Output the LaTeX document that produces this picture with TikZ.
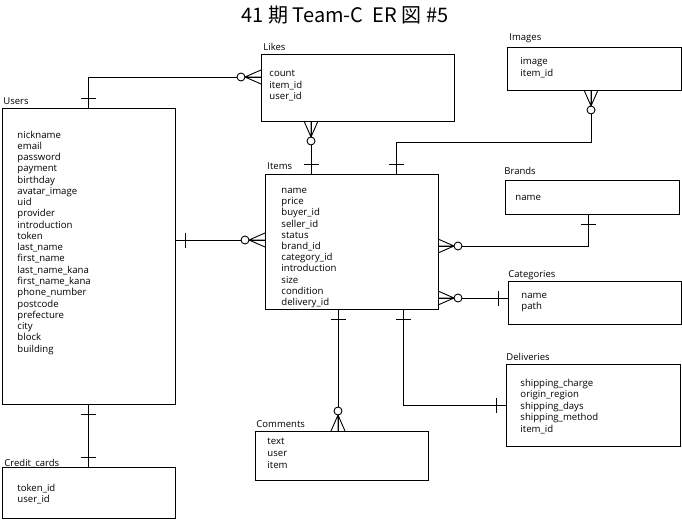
\documentclass[tikz,border=0pt]{standalone}
\usepackage{fontspec}
\setmainfont{Open Sans}
\newfontfamily\cjk{Noto Sans CJK JP}
\newcommand\attrlist[1]{\begin{tabular}[t]{@{}l@{}}#1\end{tabular}}
\begin{document}
\begin{tikzpicture}[x=1pt,y=-1pt,line width=0.9pt,
  entity/.style={draw, rectangle, inner sep=0pt, outer sep=0pt, anchor=north west},
  ename/.style={anchor=base west, inner sep=0pt, font=\fontsize{9.5}{11}\selectfont},
  attrs/.style={anchor=base west, inner sep=0pt, font={\fontsize{9.6}{#1}\selectfont}},
  attrs/.default=11.5,
  crowfoot/.pic={\draw (0,-7)--(16,0) (0,7)--(16,0) (0,0)--(16,0);
                 \draw[fill=white] (20,0) circle[radius=4];},
  onebar/.pic={\draw (10,-7.5)--(10,7.5);}
]
\useasboundingbox (0,0) rectangle (682,519);

\node[font=\cjk\fontsize{20}{22}\selectfont] (title) at (345,15) {41 期 Team-C\ \ ER 図 \#5};

% entities
\node[entity, minimum width=173pt, minimum height=296pt] (users) at (2,108) {};
\node[entity, minimum width=173pt, minimum height=51pt] (credit) at (2,467) {};
\node[entity, minimum width=193pt, minimum height=67pt] (likes) at (261,54) {};
\node[entity, minimum width=174pt, minimum height=43pt] (images) at (507,47) {};
\node[entity, minimum width=173pt, minimum height=135pt] (items) at (265,174) {};
\node[entity, minimum width=174pt, minimum height=34pt] (brands) at (505,180) {};
\node[entity, minimum width=173pt, minimum height=43pt] (categories) at (508,281) {};
\node[entity, minimum width=174pt, minimum height=82pt] (deliveries) at (506,364) {};
\node[entity, minimum width=173pt, minimum height=49pt] (comments) at (255,431) {};

% entity names
\node[ename] (usersname) at (3,104) {Users};
\node[ename] (likesname) at (263,51) {Likes};
\node[ename] (imagesname) at (509,41) {Images};
\node[ename] (itemsname) at (267,169) {Items};
\node[ename] (brandsname) at (504,174) {Brands};
\node[ename] (categoriesname) at (508,277) {Categories};
\node[ename] (deliveriesname) at (506,360) {Deliveries};
\node[ename] (commentsname) at (256,427) {Comments};
\node[ename] (creditname) at (4,466) {Credit\_cards};

% attributes
\node[attrs=11.27] (usersattr) at (17,138) {\attrlist{nickname\\email\\password\\payment\\birthday\\avatar\_image\\uid\\provider\\introduction\\token\\last\_name\\first\_name\\last\_name\_kana\\first\_name\_kana\\phone\_number\\postcode\\prefecture\\city\\block\\building}};
\node[attrs=11] (likesattr) at (269,77) {\attrlist{count\\item\_id\\user\_id}};
\node[attrs=12] (imagesattr) at (520,64) {\attrlist{image\\item\_id}};
\node[attrs=11.2] (itemsattr) at (281,193.5) {\attrlist{name\\price\\buyer\_id\\seller\_id\\status\\brand\_id\\category\_id\\introduction\\size\\condition\\delivery\_id}};
\node[attrs] (brandsattr) at (515,200) {\attrlist{name}};
\node[attrs=11.5] (categoriesattr) at (521,298) {\attrlist{name\\path}};
\node[attrs=11.5] (deliveriesattr) at (520,386) {\attrlist{shipping\_charge\\origin\_region\\shipping\_days\\shipping\_method\\item\_id}};
\node[attrs=12.3] (commentsattr) at (267,444) {\attrlist{text\\user\\item}};
\node[attrs=11] (creditattr) at (17,491) {\attrlist{token\_id\\user\_id}};

% routing coordinates
\coordinate (lvA) at (0,77);
\coordinate (xA) at (311,0);
\coordinate (xB) at (396,142);
\coordinate (xC) at (591,0);
\coordinate (yD) at (0,240);
\coordinate (pE) at (588,246);
\coordinate (yF) at (0,298);
\coordinate (xG) at (338,0);
\coordinate (pH) at (403,405);

% connectors
\draw (users.north) |- (likes.west |- lvA);
\draw (likes.south -| xA) -- (items.north -| xA);
\draw (items.north -| xB) -- (xB) -| (images.south -| xC);
\draw (users.east |- yD) -- (items.west |- yD);
\draw (items.east |- pE) -| (brands.south -| pE);
\draw (items.east |- yF) -- (categories.west |- yF);
\draw (items.south -| xG) -- (comments.north -| xG);
\draw (items.south -| pH) |- (deliveries.west |- pH);
\draw (users.south) -- (credit.north);

% ends
\path (users.north) pic[rotate=90]{onebar};
\path (likes.west |- lvA) pic[rotate=180]{crowfoot};
\path (likes.south -| xA) pic[rotate=-90]{crowfoot};
\path (items.north -| xA) pic[rotate=90]{onebar};
\path (items.north -| xB) pic[rotate=90]{onebar};
\path (images.south -| xC) pic[rotate=-90]{crowfoot};
\path (users.east |- yD) pic{onebar};
\path (items.west |- yD) pic[rotate=180]{crowfoot};
\path (items.east |- pE) pic{crowfoot};
\path (brands.south -| pE) pic[rotate=-90]{onebar};
\path (items.east |- yF) pic{crowfoot};
\path (categories.west |- yF) pic[rotate=180]{onebar};
\path (items.south -| xG) pic[rotate=-90]{onebar};
\path (comments.north -| xG) pic[rotate=90]{crowfoot};
\path (items.south -| pH) pic[rotate=-90]{onebar};
\path (deliveries.west |- pH) pic[rotate=180]{onebar};
\path (users.south) pic[rotate=-90]{onebar};
\path (credit.north) pic[rotate=90]{onebar};
\end{tikzpicture}
\end{document}
